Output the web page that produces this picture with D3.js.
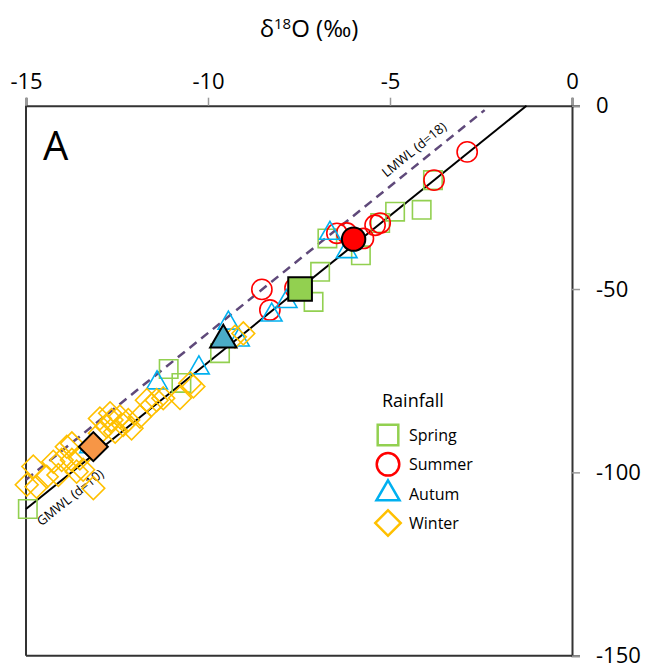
<!DOCTYPE html>
<html>
<head>
<meta charset="utf-8">
<script src="https://cdn.jsdelivr.net/npm/d3@7"></script>
<style>
  body { margin: 0; background: #fff; }
  text { font-family: "Open Sans", sans-serif; fill: #000; }
</style>
</head>
<body>
<div id="chart"></div>
<script>
var svgWidth = 648;
var svgHeight = 669;

// rainfall samples, [d18O, dD]
var spring = [[-3.82, -20.3], [-4.13, -28.4], [-4.86, -28.9], [-5.27, -32.0], [-5.8, -40.8],
  [-6.72, -36.2], [-6.92, -45.3], [-7.1, -53.5], [-9.67, -67.5], [-11.08, -71.8],
  [-10.73, -75.6], [-14.95, -110]];
var summer = [[-2.88, -12.6], [-3.79, -20.3], [-5.27, -32.0], [-5.41, -32.6], [-5.73, -36.2],
  [-6.19, -34.7], [-6.46, -34.8], [-7.61, -49.7], [-8.52, -50.1], [-8.3, -55.7]];
var autum = [[-6.65, -34.8], [-6.19, -39.8], [-7.84, -53.4], [-8.25, -57.1], [-9.44, -59.3],
  [-9.15, -63.9], [-10.25, -71.5], [-11.4, -75.6], [-13.24, -93]];
var winter = [[-10.49, -75.7], [-10.77, -79.7], [-11.41, -80.3], [-11.55, -81.6], [-11.87, -84.8],
  [-12.19, -85.7], [-12.33, -87.1], [-12.1, -88], [-12.65, -85.7], [-12.78, -87.5],
  [-12.97, -89.3], [-12.55, -88.9], [-13.74, -92.1], [-13.88, -93], [-13.52, -96.2],
  [-13.74, -96.6], [-14.02, -96.6], [-14.25, -97.1], [-14.8, -98.4], [-14.11, -100.7],
  [-14.43, -101.2], [-14.71, -103.9], [-13.43, -99.3], [-13.15, -104.3], [-13.61, -99.8],
  [-14.98, -103.4], [-12.97, -85.3], [-12.69, -83.9], [-12.42, -84.8], [-11.68, -80.3],
  [-11.23, -79.8], [-10.4, -76.6], [-9.26, -63], [-9.03, -62.1]];

// seasonal means
var means = [
  {season: "Spring", x: -7.47, y: -50},
  {season: "Summer", x: -6.0, y: -36.4},
  {season: "Autum", x: -9.58, y: -63.9},
  {season: "Winter", x: -13.15, y: -93}
];

var seasons = ["Spring", "Summer", "Autum", "Winter"];
var seasonColors = ["#92D050", "#FF0000", "#00B0F0", "#FFC000"];
var meanFills = ["#92D050", "#FF0000", "#4BACC6", "#F79646"];

var xTicks = [-15, -10, -5, 0];
var yTicks = [0, -50, -100, -150];

// meteoric water lines: dD = 8 * d18O + d
var gmwl = {d: 10, from: -15, to: -1.25};
var lmwl = {d: 18, from: -15, to: -2.4};

var svg = d3.select("#chart").append("svg")
  .attr("width", svgWidth)
  .attr("height", svgHeight);

var x = d3.scaleLinear().domain([-15, 0]).range([26, 572]);
var y = d3.scaleLinear().domain([0, -150]).range([105.7, 655.7]);

var axisColor = "#333";

// frame left + bottom
svg.append("line")
  .attr("x1", x(-15)).attr("x2", x(-15))
  .attr("y1", y(0)).attr("y2", y(-150))
  .attr("stroke", axisColor).attr("stroke-width", 2);
svg.append("line")
  .attr("x1", x(-15)).attr("x2", x(0))
  .attr("y1", y(-150)).attr("y2", y(-150))
  .attr("stroke", axisColor).attr("stroke-width", 2);

var xAxis = svg.append("g")
  .attr("transform", "translate(0," + y(0) + ")")
  .call(d3.axisTop(x).tickValues(xTicks).tickSize(8).tickPadding(9).tickFormat(d => String(d)));

var yAxis = svg.append("g")
  .attr("transform", "translate(" + x(0) + ",0)")
  .call(d3.axisRight(y).tickValues(yTicks).tickSize(8).tickPadding(16).tickFormat(d => String(d)));

[xAxis, yAxis].forEach(function(a) {
  a.select(".domain").attr("stroke", axisColor).attr("stroke-width", 2);
  a.selectAll(".tick line").attr("stroke", "#999").attr("stroke-width", 1.5);
  a.selectAll(".tick text")
    .style("font-family", "'Open Sans', sans-serif")
    .style("font-size", "22px")
    .attr("fill", "#000");
});

// title
var title = svg.append("text")
  .attr("x", 309)
  .attr("y", 37)
  .attr("text-anchor", "middle")
  .style("font-size", "24px");
title.append("tspan").text("δ");
title.append("tspan").attr("dy", -8).style("font-size", "15px").text("18");
title.append("tspan").attr("dy", 8).text("O (‰)");

svg.append("text")
  .attr("x", 43)
  .attr("y", 160)
  .style("font-size", "40px")
  .text("A");

// water lines
var line = d3.line().x(d => x(d[0])).y(d => y(d[1]));
function mwl(m) {
  return [[m.from, 8 * m.from + m.d], [m.to, 8 * m.to + m.d]];
}
svg.append("path")
  .attr("d", line(mwl(lmwl)))
  .attr("fill", "none")
  .attr("stroke", "#5F497A")
  .attr("stroke-width", 2.5)
  .attr("stroke-dasharray", "9,6");
svg.append("path")
  .attr("d", line(mwl(gmwl)))
  .attr("fill", "none")
  .attr("stroke", "#000")
  .attr("stroke-width", 2);

// line labels
var angle = -Math.atan(8 * (y(-1) - y(0)) / (x(1) - x(0))) * 180 / Math.PI;
svg.append("text")
  .attr("transform", "translate(" + 417 + "," + 153 + ") rotate(" + angle + ")")
  .attr("text-anchor", "middle")
  .style("font-size", "13px")
  .text("LMWL (d=18)");
svg.append("text")
  .attr("transform", "translate(" + 73 + "," + 501 + ") rotate(" + angle + ")")
  .attr("text-anchor", "middle")
  .style("font-size", "13px")
  .text("GMWL (d=10)");

// symbol shapes
var shapes = [d3.symbolSquare, d3.symbolCircle, d3.symbolTriangle, d3.symbolDiamond];
var openSize = [340, 320, 185, 260];
var meanSize = [560, 430, 300, 420];
var seriesData = [spring, summer, autum, winter];

function shapePath(i, size) {
  if (i == 3) {
    // square turned 45deg, like the Excel diamond
    return d3.symbol().type(d3.symbolSquare).size(size)();
  }
  return d3.symbol().type(shapes[i]).size(size)();
}

seriesData.forEach(function(data, i) {
  svg.append("g").selectAll("path")
    .data(data)
    .enter()
    .append("path")
    .attr("d", shapePath(i, openSize[i]))
    .attr("transform", d => "translate(" + x(d[0]) + "," + y(d[1]) + ")" + (i == 3 ? " rotate(45)" : ""))
    .attr("fill", "none")
    .attr("stroke", seasonColors[i])
    .attr("stroke-width", 1.6);
});

svg.append("g").selectAll("path")
  .data(means)
  .enter()
  .append("path")
  .attr("d", (d, i) => shapePath(i, meanSize[i]))
  .attr("transform", (d, i) => "translate(" + x(d.x) + "," + y(d.y) + ")" + (i == 3 ? " rotate(45)" : ""))
  .attr("fill", (d, i) => meanFills[i])
  .attr("stroke", "#000")
  .attr("stroke-width", 2);

// legend
var legend = svg.append("g");
legend.append("text")
  .attr("x", 382)
  .attr("y", 407)
  .style("font-size", "18px")
  .text("Rainfall");

var legendY = d3.scalePoint().domain(seasons).range([435, 523]);
seasons.forEach(function(s, i) {
  legend.append("path")
    .attr("d", shapePath(i, openSize[i] * 1.25))
    .attr("transform", "translate(388," + legendY(s) + ")" + (i == 3 ? " rotate(45)" : ""))
    .attr("fill", "none")
    .attr("stroke", seasonColors[i])
    .attr("stroke-width", 2.5);
  legend.append("text")
    .attr("x", 409)
    .attr("y", legendY(s) + 6)
    .style("font-size", "16px")
    .text(s);
});
</script>
</body>
</html>
